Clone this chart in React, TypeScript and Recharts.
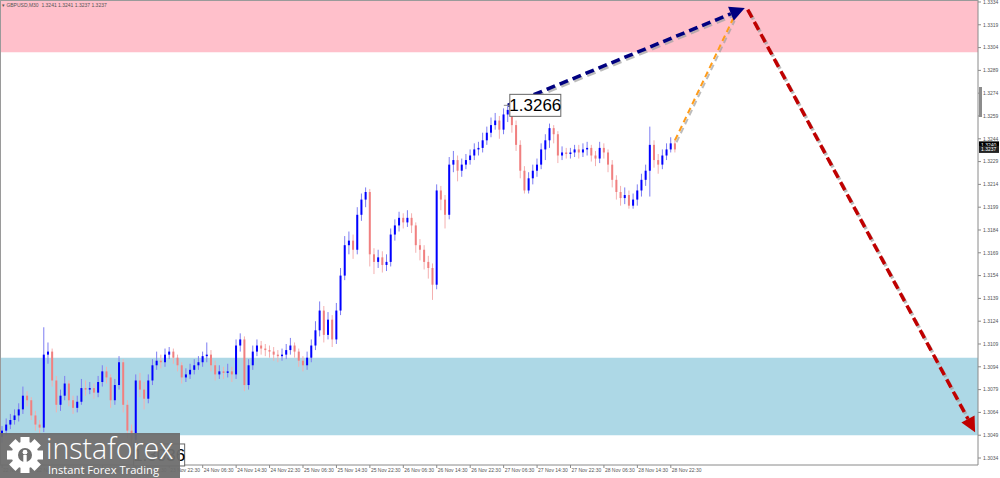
import React from 'react';
import { ComposedChart, Bar, XAxis, YAxis, ReferenceArea, ReferenceLine, ReferenceDot } from 'recharts';

const FIRST_OPEN = 1.3048;

const closes = [
  1.3052, 1.3056, 1.3059, 1.3062, 1.3066, 1.3075, 1.3072, 1.3062, 1.3056, 1.3054,
  1.3102, 1.3104, 1.3085, 1.3069, 1.3075, 1.3083, 1.3072, 1.3067, 1.3071, 1.3080,
  1.3079, 1.3080, 1.3077, 1.3084, 1.3091, 1.3087, 1.3072, 1.3082, 1.3097, 1.3069,
  1.3052, 1.3046, 1.3085, 1.3079, 1.3073, 1.3085, 1.3095, 1.3098, 1.3097, 1.3102,
  1.3104, 1.3100, 1.3095, 1.3087, 1.3089, 1.3092, 1.3095, 1.3097, 1.3101, 1.3102,
  1.3095, 1.3089, 1.3091, 1.3090, 1.3091, 1.3089, 1.3108, 1.3112, 1.3082, 1.3095,
  1.3104, 1.3108, 1.3106, 1.3105, 1.3104, 1.3102, 1.3101, 1.3102, 1.3105, 1.3108,
  1.3104, 1.3098, 1.3095, 1.3100, 1.3108, 1.3118, 1.3131, 1.3115, 1.3125, 1.3112,
  1.3131, 1.3154, 1.3174, 1.3177, 1.3171, 1.3194, 1.3204, 1.3209, 1.3168, 1.3163,
  1.3166, 1.3161, 1.3163, 1.3181, 1.3187, 1.3192, 1.3189, 1.3192, 1.3187, 1.3174,
  1.3171, 1.3163, 1.3159, 1.3148, 1.3210, 1.3204, 1.3194, 1.3227, 1.3230, 1.3223,
  1.3227, 1.3230, 1.3233, 1.3237, 1.3238, 1.3243, 1.3248, 1.3253, 1.3256, 1.3250,
  1.3260, 1.3263, 1.3253, 1.3240, 1.3223, 1.3210, 1.3218, 1.3223, 1.3227, 1.3237,
  1.3243, 1.3251, 1.3247, 1.3233, 1.3235, 1.3234, 1.3235, 1.3237, 1.3235, 1.3237,
  1.3238, 1.3233, 1.3231, 1.3238, 1.3235, 1.3227, 1.3217, 1.3209, 1.3205, 1.3207,
  1.3200, 1.3204, 1.3210, 1.3217, 1.3223, 1.3240, 1.3230, 1.3227, 1.3233, 1.3237,
  1.3241, 1.3237,
];

const highs = [
  1.3055, 1.3060, 1.3063, 1.3066, 1.3070, 1.3081, 1.3078, 1.3074, 1.3065, 1.3059,
  1.3120, 1.3110, 1.3106, 1.3088, 1.3079, 1.3088, 1.3085, 1.3075, 1.3075, 1.3086,
  1.3085, 1.3084, 1.3083, 1.3088, 1.3095, 1.3094, 1.3089, 1.3086, 1.3101, 1.3099,
  1.3072, 1.3056, 1.3089, 1.3090, 1.3084, 1.3089, 1.3099, 1.3104, 1.3102, 1.3106,
  1.3107, 1.3106, 1.3102, 1.3097, 1.3093, 1.3096, 1.3099, 1.3101, 1.3104, 1.3110,
  1.3105, 1.3098, 1.3095, 1.3094, 1.3096, 1.3094, 1.3112, 1.3116, 1.3114, 1.3099,
  1.3108, 1.3112, 1.3111, 1.3109, 1.3108, 1.3107, 1.3105, 1.3106, 1.3109, 1.3113,
  1.3110, 1.3106, 1.3101, 1.3104, 1.3112, 1.3124, 1.3137, 1.3134, 1.3130, 1.3128,
  1.3136, 1.3159, 1.3180, 1.3183, 1.3181, 1.3199, 1.3208, 1.3212, 1.3211, 1.3172,
  1.3171, 1.3170, 1.3168, 1.3185, 1.3191, 1.3196, 1.3195, 1.3197, 1.3195, 1.3189,
  1.3178, 1.3174, 1.3167, 1.3162, 1.3214, 1.3213, 1.3207, 1.3232, 1.3236, 1.3233,
  1.3231, 1.3234, 1.3237, 1.3241, 1.3242, 1.3248, 1.3252, 1.3258, 1.3261, 1.3259,
  1.3264, 1.3266, 1.3265, 1.3256, 1.3243, 1.3226, 1.3222, 1.3227, 1.3231, 1.3241,
  1.3247, 1.3254, 1.3253, 1.3249, 1.3239, 1.3238, 1.3238, 1.3240, 1.3240, 1.3241,
  1.3242, 1.3240, 1.3236, 1.3242, 1.3241, 1.3237, 1.3230, 1.3220, 1.3213, 1.3212,
  1.3210, 1.3208, 1.3214, 1.3221, 1.3227, 1.3252, 1.3243, 1.3234, 1.3237, 1.3241,
  1.3245, 1.3244,
];

const lows = [
  1.3044, 1.3049, 1.3053, 1.3056, 1.3058, 1.3063, 1.3068, 1.3059, 1.3052, 1.3050,
  1.3051, 1.3096, 1.3081, 1.3064, 1.3065, 1.3072, 1.3068, 1.3063, 1.3064, 1.3069,
  1.3075, 1.3076, 1.3073, 1.3074, 1.3081, 1.3083, 1.3067, 1.3069, 1.3079, 1.3064,
  1.3047, 1.3036, 1.3043, 1.3074, 1.3066, 1.3070, 1.3082, 1.3092, 1.3093, 1.3094,
  1.3099, 1.3096, 1.3091, 1.3083, 1.3084, 1.3086, 1.3089, 1.3092, 1.3094, 1.3097,
  1.3091, 1.3085, 1.3086, 1.3086, 1.3087, 1.3084, 1.3086, 1.3104, 1.3078, 1.3079,
  1.3092, 1.3101, 1.3102, 1.3101, 1.3100, 1.3098, 1.3097, 1.3098, 1.3099, 1.3102,
  1.3100, 1.3094, 1.3091, 1.3092, 1.3097, 1.3105, 1.3114, 1.3110, 1.3112, 1.3107,
  1.3109, 1.3128, 1.3151, 1.3168, 1.3165, 1.3168, 1.3190, 1.3199, 1.3160, 1.3155,
  1.3159, 1.3156, 1.3157, 1.3160, 1.3177, 1.3183, 1.3185, 1.3186, 1.3182, 1.3169,
  1.3164, 1.3158, 1.3152, 1.3138, 1.3145, 1.3197, 1.3185, 1.3191, 1.3222, 1.3216,
  1.3219, 1.3224, 1.3227, 1.3230, 1.3233, 1.3235, 1.3240, 1.3245, 1.3250, 1.3244,
  1.3247, 1.3255, 1.3248, 1.3236, 1.3218, 1.3208, 1.3208, 1.3214, 1.3219, 1.3224,
  1.3230, 1.3238, 1.3241, 1.3228, 1.3230, 1.3231, 1.3231, 1.3232, 1.3231, 1.3232,
  1.3233, 1.3229, 1.3226, 1.3228, 1.3231, 1.3222, 1.3212, 1.3204, 1.3200, 1.3201,
  1.3198, 1.3198, 1.3200, 1.3206, 1.3213, 1.3206, 1.3225, 1.3221, 1.3224, 1.3230,
  1.3235, 1.3235,
];

const timeLabels = [
  '22 Nov 2023', '22 Nov 14:30', '22 Nov 22:30', '23 Nov 06:30', '23 Nov 14:30',
  '23 Nov 22:30', '24 Nov 06:30', '24 Nov 14:30', '24 Nov 22:30', '25 Nov 06:30',
  '25 Nov 14:30', '25 Nov 22:30', '26 Nov 06:30', '26 Nov 14:30', '26 Nov 22:30',
  '27 Nov 06:30', '27 Nov 14:30', '27 Nov 22:30', '28 Nov 06:30', '28 Nov 14:30',
  '28 Nov 22:30',
];
const timeTickIndex = [0, 8, 16, 24, 32, 40, 48, 56, 64, 72, 80, 88, 96, 104, 112, 120, 128, 136, 144, 152, 160];

const priceTicks = [
  1.3334, 1.3319, 1.3304, 1.3289, 1.3274, 1.3259, 1.3244, 1.3229, 1.3214, 1.3199,
  1.3184, 1.3169, 1.3154, 1.3139, 1.3124, 1.3109, 1.3094, 1.3079, 1.3064, 1.3049, 1.3034,
];

const sellZone = [1.3301, 1.3336];
const buyZone = [1.3049, 1.3100];

const highLabel = { i: 121, price: 1.3266, text: '1.3266' };
const lowLabel = { i: 31, price: 1.3036, text: '1.3036' };

const bluePath = [{ x: 121, y: 1.3266 }, { x: 177.7, y: 1.3330 }];
const orangePath = [{ x: 161, y: 1.3243 }, { x: 174.9, y: 1.3323 }];
const redPath = [{ x: 178.4, y: 1.3329 }, { x: 232.8, y: 1.3051 }];

const bidPrice = 1.3237;
const askPrice = 1.3240;
const headerText = 'GBPUSD,M30  1.3241 1.3241 1.3237 1.3237';

const rows = closes.map((c, i) => {
  const o = i === 0 ? FIRST_OPEN : closes[i - 1];
  return { i, o, h: highs[i], l: lows[i], c, range: [lows[i], highs[i]] };
});

const FONT = '"Liberation Sans", Arial, sans-serif';

const Candle = (props: any) => {
  const { x, y, width, height, payload } = props;
  if (!payload || x == null || y == null || height == null) return null;
  const { o, c, h, l } = payload;
  const top = Math.min(y, y + height);
  const hh = Math.abs(height);
  const ppu = hh / (h - l || 1);
  const cx = x + width / 2;
  const up = c >= o;
  const bTop = top + (h - Math.max(o, c)) * ppu;
  const bH = Math.max(1, Math.abs(o - c) * ppu);
  return (
    <g>
      <line x1={cx} x2={cx} y1={top} y2={top + hh} stroke={up ? '#7d7df2' : '#f4b0b0'} strokeWidth={1} />
      <rect x={cx - 1} y={bTop} width={2} height={bH} fill={up ? '#0000ff' : '#f08080'} />
    </g>
  );
};

const makeArrow = (color: string, w: number, dash: string, head: number) => (p: any) => {
  const { x1, y1, x2, y2 } = p;
  if ([x1, y1, x2, y2].some((v) => v == null || Number.isNaN(v))) return <g />;
  const dx = x2 - x1;
  const dy = y2 - y1;
  const len = Math.sqrt(dx * dx + dy * dy) || 1;
  const ux = dx / len;
  const uy = dy / len;
  const bx = x2 - ux * head;
  const by = y2 - uy * head;
  const px = -uy;
  const py = ux;
  const hw = head * 0.5;
  const lx2 = head > 0 ? bx : x2;
  const ly2 = head > 0 ? by : y2;
  return (
    <g>
      <line x1={x1 + 1.5} y1={y1 + 2} x2={lx2 + 1.5} y2={ly2 + 2} stroke="#a0a0a0" strokeOpacity={0.7} strokeWidth={w} strokeDasharray={dash} />
      <line x1={x1} y1={y1} x2={lx2} y2={ly2} stroke={color} strokeWidth={w} strokeDasharray={dash} />
      {head > 0 && (
        <polygon
          points={`${x2},${y2} ${bx + px * hw},${by + py * hw} ${bx - px * hw},${by - py * hw}`}
          fill={color}
        />
      )}
    </g>
  );
};

const PriceBox = (text: string) => (p: any) => {
  const { cx, cy } = p;
  if (cx == null || cy == null) return <g />;
  return (
    <g>
      <line x1={cx - 4} y1={cy} x2={cx + 2} y2={cy} stroke="#888" strokeWidth={1} />
      <rect x={cx + 2} y={cy - 11} width={51} height={22} fill="#ffffff" stroke="#666" strokeWidth={1} />
      <text x={cx + 27.5} y={cy + 6} textAnchor="middle" fontSize={17} fontFamily={FONT} fill="#000">
        {text}
      </text>
    </g>
  );
};

const PriceTag = (text: string, bg: string) => (p: any) => {
  const vb = p.viewBox || {};
  if (vb.x == null) return <g />;
  const x = vb.x + vb.width + 1;
  return (
    <g>
      <rect x={x} y={vb.y - 3.5} width={20} height={7} fill={bg} />
      <text x={x + 2} y={vb.y + 2} fontSize={5} fontFamily={FONT} fill="#fff">
        {text}
      </text>
    </g>
  );
};

const TimeTick = (p: any) => {
  const { x, y, payload } = p;
  const k = timeTickIndex.indexOf(payload.value);
  return (
    <text x={x + 1} y={y + 4} fontSize={5} fontFamily={FONT} fill="#555" textAnchor="start">
      {k >= 0 ? timeLabels[k] : ''}
    </text>
  );
};

const Gear = () => {
  const teeth = [0, 45, 90, 135, 180, 225, 270, 315];
  return (
    <g transform="translate(25,455)">
      {teeth.map((a) => (
        <rect key={a} x={-4.5} y={-18} width={9} height={9} fill="#fff" transform={`rotate(${a})`} />
      ))}
      <circle r={13.5} fill="#fff" />
      <circle r={7} fill="#6e6e6e" />
      <circle cx={0} cy={-2.8} r={2.4} fill="#fff" />
      <rect x={-1.7} y={0} width={3.4} height={10} fill="#fff" />
    </g>
  );
};

export default function App() {
  return (
    <div style={{ position: 'absolute', left: 0, top: 0, width: 1000, height: 478, background: '#fff', fontFamily: FONT, overflow: 'hidden' }}>
      <ComposedChart width={1000} height={478} data={rows} margin={{ top: 0, right: 0, bottom: 0, left: 0 }}>
        <XAxis
          dataKey="i"
          type="number"
          domain={[-0.5, 233.5]}
          allowDataOverflow
          ticks={timeTickIndex}
          interval={0}
          height={13}
          tickSize={3}
          tickMargin={0}
          stroke="#8a8a8a"
          tick={<TimeTick />}
        />
        <YAxis
          orientation="right"
          type="number"
          domain={[1.30294, 1.33353]}
          allowDataOverflow
          ticks={priceTicks}
          interval={0}
          width={22}
          tickSize={3}
          tickMargin={2}
          stroke="#8a8a8a"
          tick={{ fontSize: 5, fill: '#555', fontFamily: FONT }}
          tickFormatter={(v: number) => v.toFixed(4)}
        />
        <ReferenceArea y1={sellZone[0]} y2={sellZone[1]} fill="#ffc0cb" fillOpacity={1} stroke="none" ifOverflow="hidden" />
        <ReferenceArea y1={buyZone[0]} y2={buyZone[1]} fill="#add8e6" fillOpacity={1} stroke="none" ifOverflow="hidden" />
        <Bar dataKey="range" barSize={4} shape={<Candle />} isAnimationActive={false} />
        <ReferenceLine segment={orangePath} ifOverflow="visible" shape={makeArrow('#ff9c1a', 2, '6 4', 0)} />
        <ReferenceLine segment={bluePath} ifOverflow="visible" shape={makeArrow('#000080', 3.5, '9 5', 15)} />
        <ReferenceLine segment={redPath} ifOverflow="visible" shape={makeArrow('#c00000', 3.5, '9 5', 15)} />
        <ReferenceDot x={lowLabel.i} y={lowLabel.price} r={0} ifOverflow="visible" shape={PriceBox(lowLabel.text)} />
        <ReferenceDot x={highLabel.i} y={highLabel.price} r={0} ifOverflow="visible" shape={PriceBox(highLabel.text)} />
        <ReferenceLine y={askPrice} stroke="none" label={PriceTag(askPrice.toFixed(4), '#000')} />
        <ReferenceLine y={bidPrice} stroke="none" label={PriceTag(bidPrice.toFixed(4), '#222')} />
      </ComposedChart>

      {/* frame edges */}
      <div style={{ position: 'absolute', left: 0, top: 0, width: 978, height: 465, borderLeft: '1px solid #9a9a9a', borderTop: '1px solid #9a9a9a', boxSizing: 'border-box', pointerEvents: 'none' }} />
      <div style={{ position: 'absolute', left: 979, top: 87, width: 3, height: 30, background: '#8c8c8c' }} />

      {/* header */}
      <div style={{ position: 'absolute', left: 2, top: 2, fontSize: 5, color: '#555', fontFamily: FONT, whiteSpace: 'pre', lineHeight: '7px' }}>
        <span style={{ fontSize: 5 }}>▾ </span>
        {headerText}
      </div>

      {/* logo */}
      <svg style={{ position: 'absolute', left: 0, top: 0 }} width={1000} height={478}>
        <rect x={0} y={433} width={180} height={45} fill="#6e6e6e" fillOpacity={0.95} />
        <Gear />
        <text x={46} y={459} fontSize={28.5} fontFamily='"Open Sans", sans-serif' fontWeight={300} fill="#fff">
          instaforex
        </text>
        <text x={48} y={474} fontSize={11.2} fontFamily='"Open Sans", sans-serif' fill="#fff">
          Instant Forex Trading
        </text>
      </svg>
    </div>
  );
}
